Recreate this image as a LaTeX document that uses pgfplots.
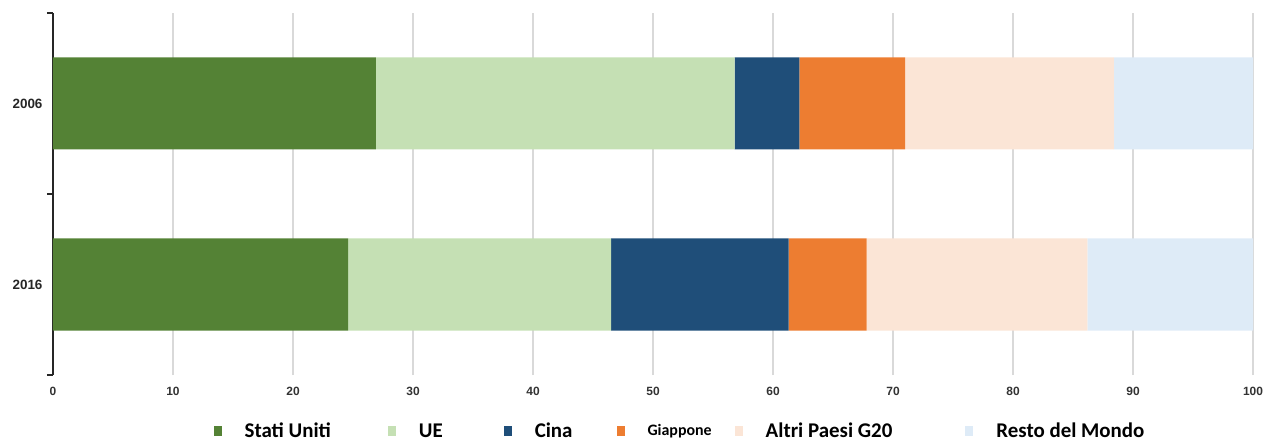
\documentclass[border=0pt]{standalone}
\usepackage{pgfplots}
\pgfplotsset{compat=1.18}
\usepackage{fontspec}
\setmainfont{Liberation Sans}
\newfontfamily\calib{Carlito}
\definecolor{cUS}{HTML}{548235}
\definecolor{cUE}{HTML}{C5E0B4}
\definecolor{cCN}{HTML}{1F4E79}
\definecolor{cJP}{HTML}{ED7D31}
\definecolor{cG20}{HTML}{FBE5D6}
\definecolor{cRM}{HTML}{DEEBF7}
\newcommand{\legtxt}[1]{\calib\fontsize{21}{21}\selectfont\bfseries #1}
\newcommand{\gap}[1]{\rule{#1}{0pt}}
\begin{document}
\begin{tikzpicture}
\begin{axis}[
  scale only axis,
  width=1200bp, height=362bp,
  xbar stacked,
  bar width=92bp,
  xmin=0, xmax=100,
  ymin=0.5, ymax=2.5,
  xtick={0,10,...,100},
  xmajorgrids,
  grid style={draw=black!15, line width=1.3bp},
  axis lines*=left,
  x axis line style={draw=none},
  y axis line style={draw=black!85, line width=1.2bp},
  xtick style={draw=none},
  ytick={0.5,1.5,2.5},
  yticklabels={},
  extra y ticks={1,2},
  extra y tick labels={2016,2006},
  extra y tick style={major tick length=0pt, yticklabel style={xshift=-7bp}},
  ytick style={draw=black!85, line width=1.2bp},
  tick align=outside,
  tick pos=left,
  major tick length=6bp,
  yticklabel style={font=\fontsize{13.5}{13.5}\selectfont\bfseries, text=black!85},
  xticklabel style={font=\fontsize{12}{12}\selectfont\bfseries, text=black!80, yshift=-3bp},
  /pgf/number format/assume math mode=true,
  legend columns=6,
  legend style={draw=none, at={(0.5225,0)}, anchor=center, yshift=-56bp,
    /tikz/every even column/.append style={column sep=0bp},
    /tikz/every odd column/.append style={column sep=0bp},
    legend cell align=left, inner sep=0pt},
  myleg/.style={legend image code/.code={\fill[##1] (0bp,-5bp) rectangle (8bp,5bp); \path[draw=none,fill=none] (0bp,0bp) -- (29bp,0bp);}},
]
\addplot[fill=cUS, draw=none, myleg] coordinates {(26.9,2) (24.6,1)};
\addlegendentry{\legtxt{Stati Uniti}\gap{55bp}}
\addplot[fill=cUE, draw=none, myleg] coordinates {(29.9,2) (21.9,1)};
\addlegendentry{\legtxt{UE}\gap{59bp}}
\addplot[fill=cCN, draw=none, myleg] coordinates {(5.4,2) (14.8,1)};
\addlegendentry{\legtxt{Cina}\gap{42bp}}
\addplot[fill=cJP, draw=none, myleg] coordinates {(8.8,2) (6.5,1)};
\addlegendentry{\calib\fontsize{16}{16}\selectfont\bfseries Giappone\gap{21bp}}
\addplot[fill=cG20, draw=none, myleg] coordinates {(17.4,2) (18.4,1)};
\addlegendentry{\legtxt{Altri Paesi G20}\gap{71bp}}
\addplot[fill=cRM, draw=none, myleg] coordinates {(11.6,2) (13.8,1)};
\addlegendentry{\legtxt{Resto del Mondo}}
\coordinate (o) at (rel axis cs:0,0);
\end{axis}
\pgfresetboundingbox
\path[use as bounding box] (o) ++(-53bp,-66bp) rectangle ++(1267bp,441bp);
\end{tikzpicture}
\end{document}
